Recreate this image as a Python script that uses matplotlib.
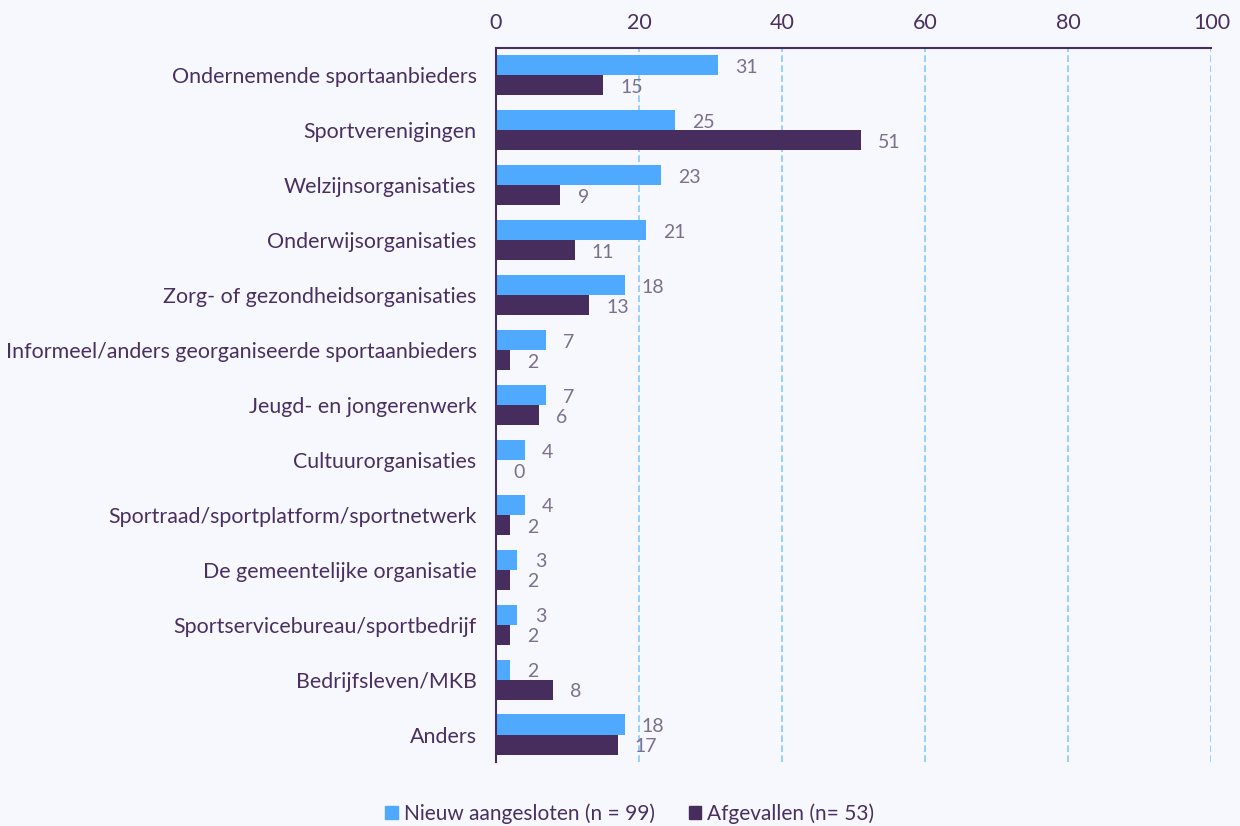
import matplotlib
matplotlib.use("Agg")
import matplotlib.pyplot as plt
import numpy as np
from matplotlib.patches import Patch

categories = [
    "Ondernemende sportaanbieders",
    "Sportverenigingen",
    "Welzijnsorganisaties",
    "Onderwijsorganisaties",
    "Zorg- of gezondheidsorganisaties",
    "Informeel/anders georganiseerde sportaanbieders",
    "Jeugd- en jongerenwerk",
    "Cultuurorganisaties",
    "Sportraad/sportplatform/sportnetwerk",
    "De gemeentelijke organisatie",
    "Sportservicebureau/sportbedrijf",
    "Bedrijfsleven/MKB",
    "Anders",
]
nieuw = [31, 25, 23, 21, 18, 7, 7, 4, 4, 3, 3, 2, 18]
afgevallen = [15, 51, 9, 11, 13, 2, 6, 0, 2, 2, 2, 8, 17]
series_names = ["Nieuw aangesloten (n = 99)", "Afgevallen (n= 53)"]
xticks = [0, 20, 40, 60, 80, 100]

BG = "#f6f8fe"
C1 = "#4faaff"
C2 = "#472c5e"
TXT = "#4a2f61"
LBL = "#7d6f8e"

plt.rcParams["font.family"] = ["Lato", "DejaVu Sans"]

fig = plt.figure(figsize=(12.4, 8.26), dpi=100, facecolor=BG)
ax = fig.add_axes([0.4, 0.0775, 0.977 - 0.4, 0.942 - 0.0775], facecolor=BG)

y = np.arange(len(categories))
h = 0.365
ax.barh(y - h / 2, nieuw, height=h, color=C1, zorder=3)
ax.barh(y + h / 2, afgevallen, height=h, color=C2, zorder=3)

off = 2.4
for i, (a, b) in enumerate(zip(nieuw, afgevallen)):
    ax.text(a + off, i - h / 2 + 0.04, str(a), va="center", ha="left", fontsize=14,
            color=LBL, zorder=4)
    ax.text(b + off, i + h / 2 + 0.04, str(b), va="center", ha="left", fontsize=14,
            color=LBL, zorder=4)

ax.set_xlim(0, 100)
ax.set_ylim(len(categories) - 0.5, -0.5)
ax.xaxis.tick_top()
ax.set_xticks(xticks)
ax.set_yticks(y)
ax.set_yticklabels(categories)
ax.tick_params(axis="x", length=0, pad=11, labelsize=15.5, labelcolor=TXT)
ax.tick_params(axis="y", length=0, pad=14, labelsize=15.4, labelcolor=TXT)
ax.grid(axis="x", color="#86c8ff", linestyle=(0, (4, 2)), linewidth=1.2, zorder=1)
for s in ["right", "bottom"]:
    ax.spines[s].set_visible(False)
for s in ["top", "left"]:
    ax.spines[s].set_color(C2)
    ax.spines[s].set_linewidth(1.5)
    ax.spines[s].set_zorder(5)

handles = [Patch(color=C1), Patch(color=C2)]
fig.legend(handles, series_names, loc="lower center", bbox_to_anchor=(0.508, -0.02),
           ncol=2, frameon=False, fontsize=15, labelcolor=TXT,
           handlelength=0.6, handleheight=0.6, handletextpad=0.3, columnspacing=1.6)

fig.savefig("out.png", dpi=100, facecolor=BG)
